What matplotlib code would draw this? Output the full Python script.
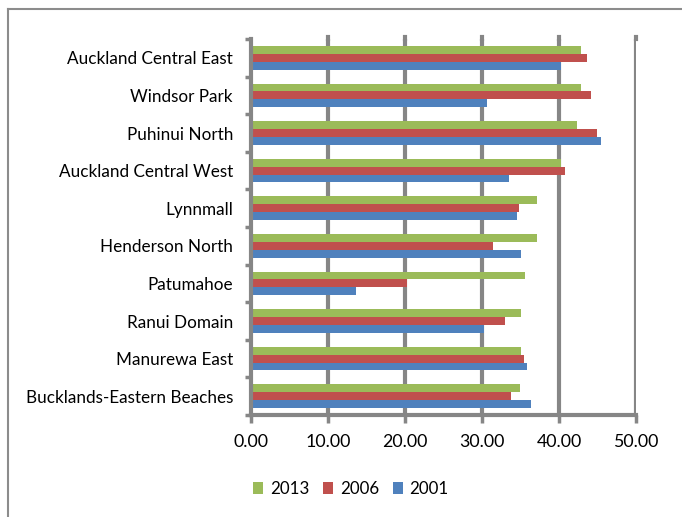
import matplotlib
matplotlib.use("Agg")
import matplotlib.pyplot as plt
import numpy as np
from matplotlib.lines import Line2D
from matplotlib.patches import Patch

categories = [
    "Auckland Central East",
    "Windsor Park",
    "Puhinui North",
    "Auckland Central West",
    "Lynnmall",
    "Henderson North",
    "Patumahoe",
    "Ranui Domain",
    "Manurewa East",
    "Bucklands-Eastern Beaches",
]
series_labels = ["2013", "2006", "2001"]
values_2013 = [42.9, 42.9, 42.4, 40.3, 37.2, 37.2, 35.6, 35.1, 35.1, 34.9]
values_2006 = [43.6, 44.2, 44.9, 40.8, 34.8, 31.4, 20.3, 33.0, 35.4, 33.8]
values_2001 = [40.3, 30.7, 45.5, 33.5, 34.5, 35.1, 13.6, 30.2, 35.9, 36.4]
x_ticks = [0, 10, 20, 30, 40, 50]

colors = ["#9BBB59", "#C0504D", "#4F81BD"]
grid_color = "#868686"

plt.rcParams["font.family"] = ["Lato", "DejaVu Sans"]

W, H = 682, 517
fig = plt.figure(figsize=(W / 100, H / 100), dpi=100)

# outer chart frame (top and left edges)
fig.add_artist(Line2D([8 / W, 1.0], [1 - 9 / H, 1 - 9 / H], transform=fig.transFigure,
                      color="#8C8C8C", linewidth=1.5))
fig.add_artist(Line2D([8 / W, 8 / W], [0.0, 1 - 9 / H], transform=fig.transFigure,
                      color="#8C8C8C", linewidth=1.5))

left, right, top, bottom = 251, 636, 39, 415
ax = fig.add_axes([left / W, 1 - bottom / H, (right - left) / W, (bottom - top) / H])

n = len(categories)
pos = np.arange(n)[::-1]
bh = 0.21
series = [values_2013, values_2006, values_2001]
for i, (vals, c, lab) in enumerate(zip(series, colors, series_labels)):
    ax.barh(pos + (1 - i) * bh, vals, height=bh, color=c, label=lab, zorder=3)

ax.set_xlim(0, 50)
ax.set_ylim(-0.5, n - 0.5)
ax.set_xticks(x_ticks)
ax.set_xticklabels([f"{t:.2f}" for t in x_ticks])
ax.set_yticks(np.arange(-0.5, n, 1.0), minor=False)
ax.set_yticklabels([])
ax.set_yticks(pos, minor=True)
ax.set_yticklabels(categories, minor=True)
ax.tick_params(axis="y", which="minor", length=0, pad=13, labelsize=12.3)
ax.tick_params(axis="y", which="major", length=4, width=2.5, color=grid_color)
ax.tick_params(axis="x", length=6, width=2.5, color=grid_color, labelsize=12.8, pad=8)

for t in x_ticks[1:]:
    ax.axvline(t, color=grid_color, linewidth=3, zorder=1)
    ax.axvline(t, ymin=1.0, ymax=1.0 + 2 / (bottom - top), color=grid_color, linewidth=3,
               clip_on=False)

for s in ["top", "right"]:
    ax.spines[s].set_visible(False)
for s in ["left", "bottom"]:
    ax.spines[s].set_color(grid_color)
    ax.spines[s].set_linewidth(3)
    ax.spines[s].set_zorder(4)

handles = [Patch(facecolor=c) for c in colors]
fig.legend(handles, series_labels, loc="center", bbox_to_anchor=(351 / W, 1 - 489 / H),
           ncol=3, frameon=False, fontsize=12.2, handlelength=0.6, handleheight=0.75,
           columnspacing=0.8, handletextpad=0.4)

fig.savefig("out.png", dpi=100)
